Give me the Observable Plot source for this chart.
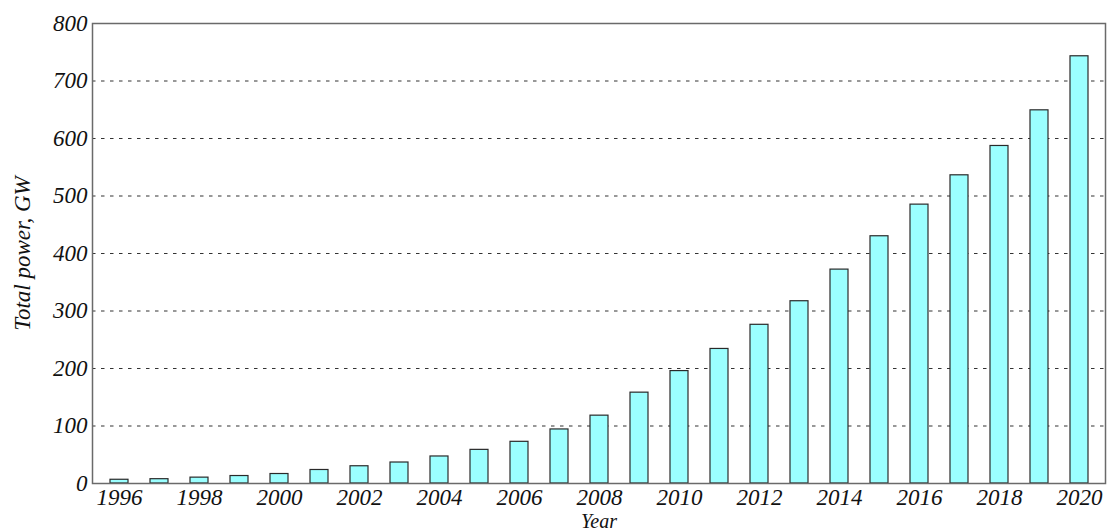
<!DOCTYPE html>
<html>
<head>
<meta charset="utf-8">
<script src="https://cdn.jsdelivr.net/npm/d3@7"></script>
<script src="https://cdn.jsdelivr.net/npm/@observablehq/plot@0.6"></script>
<style>
  html, body { margin: 0; padding: 0; background: #fff; }
  #chart svg text { font-style: italic; font-family: 'Liberation Serif', 'DejaVu Serif', serif; }
</style>
</head>
<body>
<div id="chart"></div>
<script>
const years = [1996,1997,1998,1999,2000,2001,2002,2003,2004,2005,2006,2007,2008,2009,2010,2011,2012,2013,2014,2015,2016,2017,2018,2019,2020];
const power = [6.5,7.5,10.2,13,16.5,23.5,30,36.5,47,58.5,72.5,94,118,158,195.5,234,276,317,372,430,485,536,587,649,743];
const yTicks = [0,100,200,300,400,500,600,700,800];
const gridValues = [100,200,300,400,500,600,700];
const xTickYears = years.filter(y => y % 2 === 0);
const xTitle = "Year";
const yTitle = "Total power, GW";

const data = years.map((y, i) => ({year: y, value: power[i]}));

const chart = Plot.plot({
  width: 1115,
  height: 531,
  marginLeft: 92,
  marginRight: 10,
  marginTop: 23,
  marginBottom: 48,
  style: {fontFamily: "'Liberation Serif', 'DejaVu Serif', serif", fontStyle: "italic", fontSize: "22px", color: "#111", background: "#fff"},
  x: {type: "band", domain: years, paddingInner: 0.556, paddingOuter: 0.278},
  y: {domain: [0, 800]},
  marks: [
    Plot.ruleY(gridValues, {stroke: "#333", strokeWidth: 1.2, strokeDasharray: "3.5,5.5"}),
    Plot.barY(data, {x: "year", y: "value", fill: "#9bffff", stroke: "#2a2a2a", strokeWidth: 1.2}),
    Plot.frame({stroke: "#6a6a6a", strokeWidth: 1.5}),
    Plot.axisY({ticks: yTicks, tickSize: 0, tickPadding: 5, fontSize: 23, label: yTitle, labelAnchor: "center", labelArrow: "none", labelOffset: 79}),
    Plot.axisX({ticks: xTickYears, tickSize: 0, tickPadding: 5, fontSize: 23, tickFormat: d => String(d), label: null}),
    Plot.text([xTitle], {frameAnchor: "bottom", dy: 44, lineAnchor: "bottom", fontSize: 20, fill: "#111"})
  ]
});
document.getElementById("chart").appendChild(chart);
</script>
</body>
</html>
